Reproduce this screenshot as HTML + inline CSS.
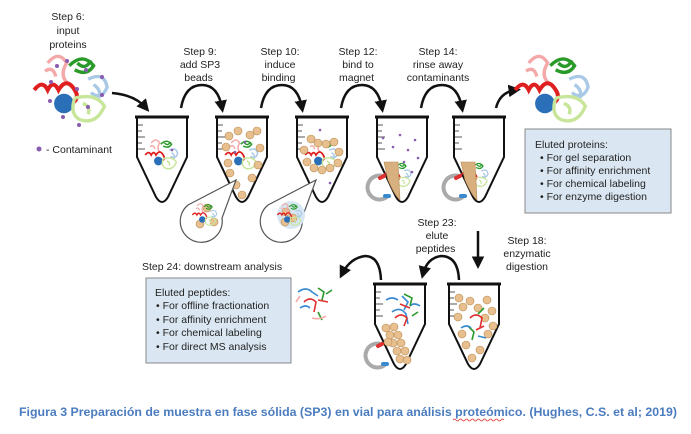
<!DOCTYPE html>
<html><head><meta charset="utf-8"><style>
html,body{margin:0;padding:0;background:#fff;width:691px;height:434px;overflow:hidden}
svg{display:block}
text{font-family:"Liberation Sans",sans-serif;fill:#222}
</style></head><body>
<svg width="691" height="434" viewBox="0 0 691 434" xmlns="http://www.w3.org/2000/svg">
<defs>
<marker id="ah" viewBox="0 0 10 10" refX="6" refY="5" markerWidth="5" markerHeight="5" orient="auto"><path d="M0,0 L10,5 L0,10 z" fill="#111"/></marker>
<g id="tube">
<path d="M0,0 L0,40 L19,80 Q25,90 31,80 L50,40 L50,0" fill="#fff" stroke="#111" stroke-width="2"/>
<line x1="-2" y1="0" x2="52" y2="0" stroke="#111" stroke-width="3"/>
<g stroke="#555" stroke-width="1"><line x1="1" y1="8" x2="6" y2="8"/><line x1="1" y1="14" x2="5" y2="14"/><line x1="1" y1="20" x2="8" y2="20"/><line x1="1" y1="26" x2="5" y2="26"/><line x1="1" y1="32" x2="8" y2="32"/></g>
</g>
<g id="prot" fill="none" stroke-width="2.5">
<path d="M-18,-20 q8,-10 14,0 q-6,10 2,16 M-20,-14 q6,-4 8,4" stroke="#f4a9a8"/>
<path d="M-2,-18 q10,-10 18,0 q-5,8 -14,3 M4,-20 q6,6 10,-2" stroke="#2a9a2a"/>
<path d="M12,-8 q12,-6 14,6 q-4,10 -12,4 M16,-4 q6,4 4,10" stroke="#a9c9e6"/>
<path d="M-28,0 q6,-8 10,0 q4,-8 8,0 q6,-10 12,0 q4,6 -2,10" stroke="#e02020" stroke-width="3"/>
<circle cx="-6" cy="10" r="6" fill="#2a6fb8" stroke="#2a6fb8"/>
<path d="M2,6 q16,-4 22,6 q-6,14 -18,10 q-8,-4 -4,-16 M8,10 q6,2 4,8" stroke="#c8e69a"/>
</g>
</defs>

<text font-size="10.5" text-anchor="middle"><tspan x="68" y="20">Step 6:</tspan><tspan x="68" y="34">input</tspan><tspan x="68" y="48">proteins</tspan></text>
<use href="#prot" transform="translate(72,90) scale(1.35)"/>
<g fill="#8a5cb0"><circle cx="57" cy="66" r="2"/><circle cx="67" cy="61" r="2"/><circle cx="86" cy="70" r="2"/><circle cx="102" cy="77" r="2"/><circle cx="51" cy="82" r="2"/><circle cx="50" cy="101" r="2"/><circle cx="77" cy="89" r="2"/><circle cx="102" cy="95" r="2"/><circle cx="88" cy="107" r="2"/><circle cx="63" cy="117" r="2"/><circle cx="79" cy="125" r="2"/><circle cx="39" cy="149" r="2.5"/></g>
<text x="46" y="153" font-size="10.5">- Contaminant</text>

<g fill="none" stroke="#111" stroke-width="2.5" marker-end="url(#ah)">
<path d="M112,93 Q135,95 146,108"/>
<path d="M181,108 Q185,85 202,85 Q218,85 222,108"/>
<path d="M261,108 Q265,85 282,85 Q298,85 302,108"/>
<path d="M341,108 Q345,85 362,85 Q378,85 382,108"/>
<path d="M421,108 Q425,85 442,85 Q458,85 462,108"/>
<path d="M496,108 Q500,92 516,90"/>
</g>
<text font-size="10.5" text-anchor="middle">
<tspan x="200" y="55">Step 9:</tspan><tspan x="200" y="68">add SP3</tspan><tspan x="200" y="81">beads</tspan>
<tspan x="280" y="55">Step 10:</tspan><tspan x="280" y="68">induce</tspan><tspan x="280" y="81">binding</tspan>
<tspan x="358" y="55">Step 12:</tspan><tspan x="358" y="68">bind to</tspan><tspan x="358" y="81">magnet</tspan>
<tspan x="438" y="55">Step 14:</tspan><tspan x="438" y="68">rinse away</tspan><tspan x="438" y="81">contaminants</tspan>
</text>

<use href="#tube" x="137" y="117"/>
<use href="#tube" x="217" y="117"/>
<use href="#tube" x="297" y="117"/>
<use href="#tube" x="377" y="117"/>
<use href="#tube" x="454" y="117"/>
<use href="#prot" transform="translate(162,155) scale(0.6)"/>
<use href="#prot" transform="translate(242,155) scale(0.6)"/>
<use href="#prot" transform="translate(322,155) scale(0.6)"/>
<use href="#prot" transform="translate(398,175) scale(0.5)"/>
<use href="#prot" transform="translate(475,175) scale(0.5)"/>
<g fill="#e8c090" stroke="#b88a50" stroke-width="0.6">
<circle cx="229" cy="136" r="4"/><circle cx="238" cy="131" r="4"/><circle cx="250" cy="135" r="4"/><circle cx="257" cy="131" r="4"/><circle cx="226" cy="147" r="4"/><circle cx="260" cy="148" r="4"/><circle cx="228" cy="163" r="4"/><circle cx="230" cy="173" r="4"/><circle cx="258" cy="165" r="4"/><circle cx="236" cy="185" r="4"/><circle cx="242" cy="195" r="4"/><circle cx="252" cy="178" r="4"/>
<circle cx="311" cy="139" r="4"/><circle cx="318" cy="143" r="4"/><circle cx="326" cy="144" r="4"/><circle cx="334" cy="142" r="4"/><circle cx="304" cy="150" r="4"/><circle cx="339" cy="152" r="4"/><circle cx="307" cy="162" r="4"/><circle cx="338" cy="163" r="4"/><circle cx="330" cy="168" r="4"/><circle cx="322" cy="170" r="4"/><circle cx="314" cy="168" r="4"/>
<path d="M384,162 L398,162 L400,200 Q395,196 388,180 z" fill="#d8b080"/>
<path d="M461,162 L475,162 L477,200 Q472,196 465,180 z" fill="#d8b080"/>
</g>
<g fill="#8a5cb0"><circle cx="383" cy="138" r="1.3"/><circle cx="400" cy="135" r="1.3"/><circle cx="415" cy="140" r="1.3"/><circle cx="393" cy="147" r="1.3"/><circle cx="408" cy="150" r="1.3"/><circle cx="418" cy="158" r="1.3"/><circle cx="404" cy="162" r="1.3"/><circle cx="412" cy="172" r="1.3"/><circle cx="245" cy="142" r="1.3"/><circle cx="235" cy="152" r="1.3"/><circle cx="320" cy="130" r="1.3"/><circle cx="330" cy="183" r="1.3"/><circle cx="172" cy="150" r="1.3"/></g>
<g fill="none" stroke-width="4" stroke-linecap="round">
<path d="M383,176 A12,12 0 1 0 388,196" stroke="#aaa"/><path d="M459,176 A12,12 0 1 0 464,196" stroke="#aaa"/>
<path d="M380,178 l4,-2" stroke="#e03030"/><path d="M385,196 l4,0" stroke="#3a8ad0"/>
<path d="M456,178 l4,-2" stroke="#e03030"/><path d="M461,196 l4,0" stroke="#3a8ad0"/>
</g>
<g fill="#fff" stroke="#555" stroke-width="1.2">
<path d="M188,205 L236,180 L222,218 A21,21 0 1 1 188,205 z"/>
<path d="M268,205 L316,180 L302,218 A21,21 0 1 1 268,205 z"/>
</g>
<circle cx="291" cy="215" r="14" fill="#d6e6f2"/>
<g fill="#e8c090" stroke="#b88a50" stroke-width="0.6"><circle cx="207" cy="208" r="4"/><circle cx="200" cy="224" r="4"/><circle cx="214" cy="222" r="4"/><circle cx="286" cy="212" r="4"/><circle cx="293" cy="218" r="4"/><circle cx="285" cy="222" r="4"/></g>
<use href="#prot" transform="translate(205,215) scale(0.45)"/>
<use href="#prot" transform="translate(290,215) scale(0.45)"/>

<use href="#prot" transform="translate(553,90) scale(1.35)"/>
<rect x="525" y="129" width="146" height="84" fill="#dae7f2" stroke="#888" stroke-width="1"/>
<text font-size="10.5"><tspan x="535" y="148">Eluted proteins:</tspan>
<tspan x="540" y="161">• For gel separation</tspan><tspan x="540" y="174">• For affinity enrichment</tspan><tspan x="540" y="187">• For chemical labeling</tspan><tspan x="540" y="200">• For enzyme digestion</tspan></text>

<text font-size="10.5" text-anchor="middle"><tspan x="437" y="226">Step 23:</tspan><tspan x="437" y="239">elute</tspan><tspan x="437" y="252">peptides</tspan>
<tspan x="527" y="244">Step 18:</tspan><tspan x="527" y="257">enzymatic</tspan><tspan x="527" y="270">digestion</tspan></text>
<text x="142" y="270" font-size="10.5">Step 24: downstream analysis</text>
<line x1="478" y1="231" x2="478" y2="264" stroke="#111" stroke-width="2.5" marker-end="url(#ah)"/>
<g fill="none" stroke="#111" stroke-width="2.5" marker-end="url(#ah)">
<path d="M459,280 Q458,256 441,256 Q427,258 423,274"/>
<path d="M381,280 Q380,256 365,256 Q350,258 342,274"/>
</g>
<use href="#tube" x="375" y="284"/>
<use href="#tube" x="449" y="284"/>
<g fill="#e8c090" stroke="#b88a50" stroke-width="0.6">
<circle cx="386" cy="328" r="4"/><circle cx="394" cy="327" r="4"/><circle cx="390" cy="335" r="4"/><circle cx="398" cy="335" r="4"/><circle cx="393" cy="343" r="4"/><circle cx="401" cy="343" r="4"/><circle cx="397" cy="351" r="4"/><circle cx="405" cy="351" r="4"/><circle cx="400" cy="359" r="4"/><circle cx="407" cy="360" r="4"/><circle cx="388" cy="342" r="4"/>
<circle cx="459" cy="298" r="4"/><circle cx="470" cy="301" r="4"/><circle cx="487" cy="300" r="4"/><circle cx="463" cy="307" r="4"/><circle cx="478" cy="308" r="4"/><circle cx="492" cy="311" r="4"/><circle cx="458" cy="317" r="4"/><circle cx="485" cy="318" r="4"/><circle cx="493" cy="326" r="4"/><circle cx="462" cy="334" r="4"/><circle cx="488" cy="334" r="4"/><circle cx="466" cy="345" r="4"/><circle cx="480" cy="350" r="4"/><circle cx="472" cy="358" r="4"/>
</g>
<g fill="none" stroke-width="1.6">
<path d="M386,300 q6,-4 12,0 M402,296 l6,6 l-4,8 M392,312 q8,-6 14,2 l2,10 M410,306 q4,-4 10,0" stroke="#3a8ad0"/>
<path d="M395,318 q6,-6 12,0 l-3,8 M400,304 l10,4" stroke="#e03030"/>
<path d="M404,294 l8,4 l-2,8 M412,316 l6,-4" stroke="#2a9a2a"/>
<path d="M470,318 q6,-6 12,0 l-2,10 M476,330 l8,-4" stroke="#e03030"/>
<path d="M468,326 l6,6 l-2,8 M478,314 l6,-6" stroke="#2a9a2a"/>
<path d="M461,328 q6,-4 10,0 M478,336 l8,2" stroke="#3a8ad0"/>
<path d="M298,292 q8,-6 14,0 l6,4 M300,308 q6,-4 10,0" stroke="#3a8ad0"/>
<path d="M304,302 q6,-6 12,0 l-2,10 M318,300 l10,2" stroke="#e03030"/>
<path d="M318,288 l6,4 l-2,8 M326,294 l6,-4 M318,312 l4,8" stroke="#2a9a2a"/>
<path d="M312,318 q8,2 14,-2 M300,296 l-4,6" stroke="#f4a9a8"/>
</g>
<g fill="none" stroke-width="4" stroke-linecap="round">
<path d="M381,344 A12,12 0 1 0 386,364" stroke="#aaa"/>
<path d="M378,346 l4,-2" stroke="#e03030"/><path d="M383,364 l4,0" stroke="#3a8ad0"/>
</g>
<rect x="146" y="278" width="145" height="85" fill="#dae7f2" stroke="#888" stroke-width="1"/>
<text font-size="10.5"><tspan x="155" y="296">Eluted peptides:</tspan>
<tspan x="156" y="309">• For offline fractionation</tspan><tspan x="156" y="323">• For affinity enrichment</tspan><tspan x="156" y="336">• For chemical labeling</tspan><tspan x="156" y="350">• For direct MS analysis</tspan></text>

<text x="19" y="416" font-size="12" font-weight="bold" textLength="658" lengthAdjust="spacingAndGlyphs" style="fill:#4a7cbf">Figura 3 Preparación de muestra en fase sólida (SP3) en vial para análisis proteómico. (Hughes, C.S. et al; 2019)</text>
<path d="M453,420 q1.5,-2 3,0 t3,0 t3,0 t3,0 t3,0 t3,0 t3,0 t3,0 t3,0 t3,0 t3,0 t3,0 t3,0 t3,0 t3,0 t3,0 t3,0" fill="none" stroke="#e03030" stroke-width="0.8"/>
</svg>
</body></html>
